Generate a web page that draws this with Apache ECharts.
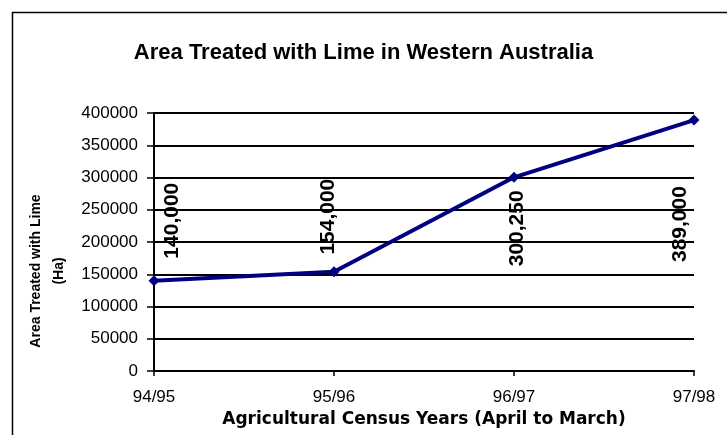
<!DOCTYPE html>
<html>
<head>
<meta charset="utf-8">
<script src="https://cdn.jsdelivr.net/npm/echarts@6/dist/echarts.min.js"></script>
<style>
    html, body { margin: 0; padding: 0; background: #fff; }
    #chart { width: 727px; height: 435px; }
</style>
</head>
<body>
<div id="chart"></div>
<script>

var census_years = ['94/95', '95/96', '96/97', '97/98'];
var lime_area = [140000, 154000, 300250, 389000];
var y_ticks = [0, 50000, 100000, 150000, 200000, 250000, 300000, 350000, 400000];

// where excel put each rotated label, relative to its point
// (offset is in the label's rotated frame, so [-down, right])
var label_nudge = [[60, 18], [55, -6], [-51, 3], [-104, -14]];

function addCommas(n) {
    return String(n).replace(/\B(?=(\d{3})+(?!\d))/g, ',');
}

var chart = echarts.init(document.getElementById('chart'));

var points = [];
for (var x = 0; x < lime_area.length; x++) {
    points.push({
        value: lime_area[x],
        label: { offset: label_nudge[x] }
    });
}

var option = {
    animation: false,
    textStyle: { fontFamily: 'Liberation Sans, Arial, sans-serif' },
    title: {
        text: 'Area Treated with Lime in Western Australia',
        left: 'center',
        top: 37,
        textStyle: { fontSize: 22, fontWeight: 'bold', color: '#000' }
    },
    graphic: [{
        type: 'rect',
        shape: { x: 12.5, y: 12.5, width: 720, height: 430 },
        style: { fill: 'none', stroke: '#000', lineWidth: 1.5 },
        silent: true
    }],
    grid: { left: 154, right: 33, top: 113, bottom: 64 },
    xAxis: {
        type: 'category',
        data: census_years,
        boundaryGap: false,
        name: 'Agricultural Census Years (April to March)',
        nameLocation: 'middle',
        nameGap: 31,
        nameTextStyle: { fontSize: 17, fontWeight: 'bold', color: '#000', fontFamily: 'DejaVu Sans' },
        axisLine: { lineStyle: { color: '#000', width: 2 } },
        axisTick: { alignWithLabel: true, length: 5, lineStyle: { color: '#000', width: 1.5 } },
        axisLabel: { fontSize: 17, color: '#000', margin: 18 },
        splitLine: { show: false }
    },
    yAxis: {
        type: 'value',
        min: y_ticks[0],
        max: y_ticks[y_ticks.length - 1],
        interval: y_ticks[1] - y_ticks[0],
        name: 'Area Treated with Lime\n(Ha)',
        nameLocation: 'middle',
        nameGap: 76,
        nameTextStyle: { fontSize: 14, fontWeight: 'bold', color: '#000', lineHeight: 23, padding: [0, 58, 0, 0] },
        axisLine: { show: true, lineStyle: { color: '#000', width: 2 } },
        axisTick: { show: true, length: 7, lineStyle: { color: '#000', width: 1.5 } },
        axisLabel: { fontSize: 17, color: '#000', margin: 16, formatter: function (v) { return String(v); } },
        splitLine: { lineStyle: { color: '#000', width: 2 } }
    },
    series: [{
        name: 'Area',
        type: 'line',
        data: points,
        symbol: 'diamond',
        symbolSize: 11,
        lineStyle: { color: '#000080', width: 4 },
        itemStyle: { color: '#000080' },
        label: {
            show: true,
            position: 'inside',
            rotate: 90,
            align: 'center',
            verticalAlign: 'middle',
            fontSize: 21,
            fontWeight: 'bold',
            color: '#000',
            formatter: function (p) { return addCommas(p.value); }
        }
    }]
};

chart.setOption(option);

</script>
</body>
</html>
